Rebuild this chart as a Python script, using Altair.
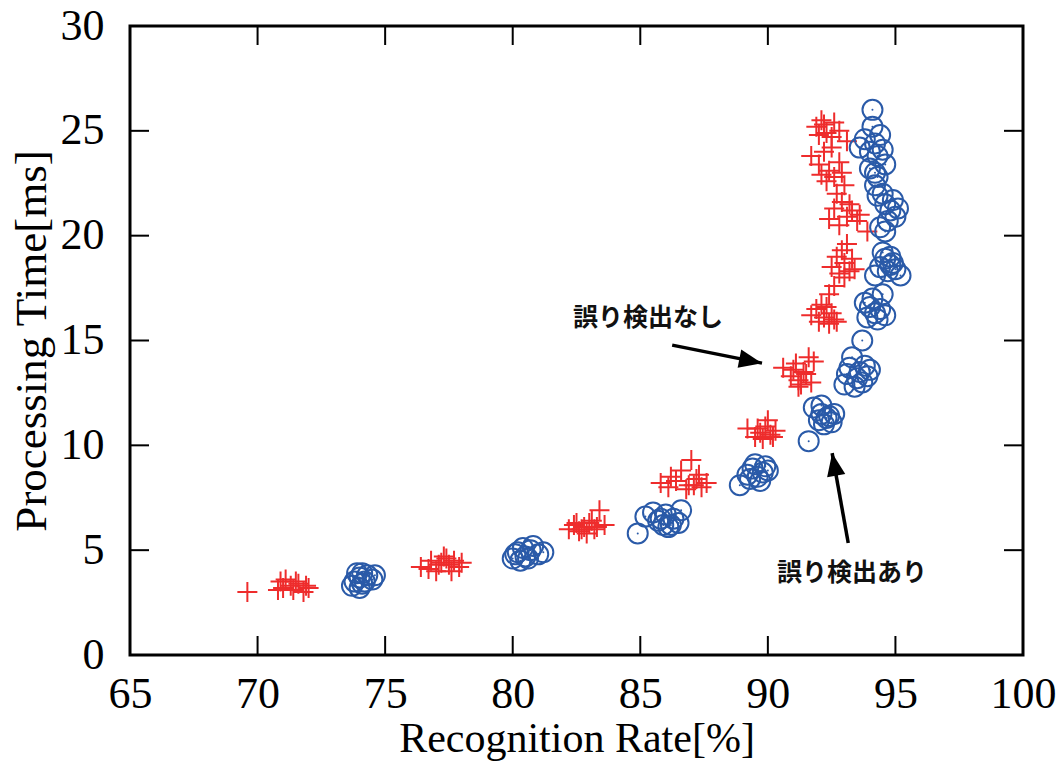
import altair as alt
import pandas as pd

# ---- data ----
red_x = [69.6, 70.9, 71.0, 71.1, 71.3, 71.4, 71.6, 71.8, 72.0, 70.8, 71.5, 71.9,
         76.4, 76.8, 77.0, 77.2, 77.4, 77.5, 77.7, 77.9, 77.3, 76.7, 77.6, 78.0, 77.1,
         82.2, 82.4, 82.6, 82.8, 83.0, 83.2, 82.9, 83.1, 83.4, 82.5, 83.3, 82.7, 83.6,
         85.8, 86.1, 86.4, 86.6, 86.9, 87.0, 87.2, 87.4, 87.6, 86.8, 87.3, 86.2, 87.1,
         89.2, 89.5, 89.7, 89.9, 90.1, 90.0, 90.3, 89.8, 90.2, 89.6,
         90.6, 90.9, 91.1, 91.2, 91.4, 91.6, 91.3, 91.7, 91.0, 91.5, 91.8, 91.2,
         91.7, 91.9, 92.0, 92.2, 92.4, 92.5, 92.3, 92.6, 92.1, 92.7, 92.4,
         92.5, 92.7, 92.8, 92.9, 93.0, 93.2, 93.1, 93.4, 92.6, 93.0, 93.3,
         92.4, 92.6, 92.8, 92.9, 93.1, 93.3, 93.5, 93.6, 92.7, 93.9, 93.2,
         91.7, 92.0, 92.2, 92.4, 92.6, 92.8, 92.3, 93.0, 92.5, 92.9, 93.1, 92.1,
         91.9, 92.1, 92.3, 92.2, 92.5, 92.8, 92.0, 92.6]
red_y = [3.0, 3.5, 3.2, 3.6, 3.3, 3.1, 3.4, 3.0, 3.2, 3.1, 3.5, 3.3,
         4.2, 4.5, 4.0, 4.4, 4.6, 4.3, 4.5, 4.2, 4.7, 4.1, 4.0, 4.4, 4.3,
         6.0, 6.2, 5.9, 6.1, 6.3, 6.0, 5.8, 6.4, 6.9, 6.3, 6.1, 6.0, 6.2,
         8.2, 8.0, 8.3, 8.8, 8.1, 9.3, 8.4, 8.0, 8.2, 7.9, 8.6, 8.5, 8.1,
         10.8, 10.4, 10.6, 10.9, 10.5, 11.2, 10.7, 10.3, 10.4, 10.8,
         13.7, 13.3, 13.9, 13.1, 13.5, 14.2, 12.9, 13.0, 13.6, 13.4, 14.0, 12.8,
         16.2, 16.5, 15.9, 16.1, 15.8, 16.3, 16.6, 16.0, 16.7, 15.9, 17.2,
         18.5, 19.0, 18.2, 19.3, 18.7, 18.3, 19.6, 18.4, 17.6, 18.0, 18.9,
         20.8, 21.3, 20.5, 21.6, 20.9, 21.2, 20.7, 21.0, 22.0, 20.2, 21.5,
         23.8, 23.4, 24.0, 23.1, 22.8, 23.5, 22.6, 22.4, 24.2, 23.0, 24.5, 22.9,
         25.2, 25.5, 24.9, 25.3, 24.7, 25.0, 24.8, 25.4]

blue_x = [73.8, 74.0, 74.1, 74.3, 74.0, 73.9, 74.5, 74.2, 73.7, 74.6, 74.1,
          80.0, 80.2, 80.4, 80.5, 80.7, 80.3, 81.0, 80.8, 81.2, 80.6, 80.1,
          84.9, 85.2, 85.5, 85.7, 85.9, 86.0, 86.1, 86.3, 86.5, 86.6, 85.8, 86.2,
          88.9, 89.2, 89.4, 89.5, 89.6, 89.8, 89.7, 89.3, 90.0, 89.9,
          91.6, 91.8, 92.0, 92.1, 92.2, 92.3, 92.4, 92.5, 92.6, 92.1,
          93.0, 93.1, 93.2, 93.3, 93.5, 93.6, 93.8, 93.9, 93.7, 93.4, 94.0,
          93.7, 93.9, 94.0, 94.1, 94.2, 94.3, 94.4, 94.5, 94.6, 93.8,
          94.2, 94.4, 94.6, 94.7, 94.8, 94.9, 95.0, 95.2, 94.5, 94.8,
          94.3, 94.5, 94.6, 94.7, 94.8, 94.9, 95.0, 94.4, 94.6, 95.1, 94.2,
          93.6, 93.8, 94.0, 94.2, 94.3, 94.4, 94.1, 94.5, 94.0, 94.3, 94.6, 94.2,
          94.1]
blue_y = [3.5, 3.7, 3.4, 3.8, 3.2, 3.9, 3.6, 3.5, 3.3, 3.8, 3.9,
          4.6, 4.9, 5.1, 4.7, 5.0, 4.5, 4.8, 5.2, 4.9, 4.6, 4.8,
          5.8, 6.6, 6.8, 6.4, 6.2, 6.7, 6.1, 6.5, 6.3, 6.9, 6.5, 6.2,
          8.1, 8.6, 8.9, 9.1, 8.5, 8.7, 8.3, 8.4, 8.8, 9.0,
          10.2, 11.8, 11.2, 11.5, 11.0, 11.3, 11.4, 11.1, 11.5, 11.9,
          12.9, 13.4, 13.7, 14.2, 13.2, 13.5, 13.8, 13.3, 13.0, 12.8, 13.6,
          15.0, 16.1, 16.6, 17.0, 16.3, 16.0, 16.5, 17.2, 16.2, 16.8,
          18.1, 18.5, 18.9, 18.3, 19.0, 18.7, 18.4, 18.1, 19.2, 18.6,
          21.9, 22.0, 21.5, 20.7, 21.2, 21.7, 20.9, 20.4, 20.2, 21.3, 22.4,
          24.2, 24.6, 24.0, 24.4, 23.8, 24.8, 25.2, 24.1, 23.2, 22.8, 23.4, 23.0,
          26.0]

x_ticks = [65, 70, 75, 80, 85, 90, 95, 100]
y_ticks = [0, 5, 10, 15, 20, 25, 30]

labels_text = ["誤り検出なし", "誤り検出あり"]
labels_x = [85.3, 93.3]
labels_y = [16.07, 3.93]

arrow_x0 = [86.25, 93.15]
arrow_y0 = [14.78, 5.34]
arrow_x1 = [89.77, 92.52]
arrow_y1 = [13.92, 9.63]
arrow_angle = [101.3, 349.9]

# ---- tables ----
red = pd.DataFrame({"x": red_x, "y": red_y})
blue = pd.DataFrame({"x": blue_x, "y": blue_y})
lab = pd.DataFrame({"t": labels_text, "x": labels_x, "y": labels_y})
arr = pd.DataFrame({"x0": arrow_x0, "y0": arrow_y0, "x1": arrow_x1,
                    "y1": arrow_y1, "a": arrow_angle})

XLEN = 0.745   # tick length in x units
YLEN = 0.906   # tick length in y units
inner_x = [v for v in x_ticks if 65 < v < 100]
inner_y = [v for v in y_ticks if 0 < v < 30]
xt = pd.DataFrame({"v": inner_x})
yt = pd.DataFrame({"v": inner_y})

xs = alt.Scale(domain=[65, 100], nice=False, zero=False)
ys = alt.Scale(domain=[0, 30], nice=False, zero=False)

serif = "Liberation Serif"
xaxis = alt.Axis(values=x_ticks, ticks=False, domain=False, grid=False,
                 labelFont=serif, labelFontSize=44, labelColor="black",
                 labelPadding=17, labelFlush=False, labelOverlap=False,
                 title="Recognition Rate[%]", titleFont=serif,
                 titleFontSize=42, titleFontWeight="normal", titleColor="black",
                 titlePadding=2)
yaxis = alt.Axis(values=y_ticks, ticks=False, domain=False, grid=False,
                 labelFont=serif, labelFontSize=44, labelColor="black",
                 labelPadding=26, labelFlush=False, labelOverlap=False,
                 title="Processing Time[ms]", titleFont=serif,
                 titleFontSize=45, titleFontWeight="normal", titleColor="black",
                 titlePadding=6)

base_red = alt.Chart(red).mark_point(
    shape="M-1,0L1,0M0,-1L0,1", size=400, filled=False,
    stroke="#ee2c2c", strokeWidth=2, opacity=1
).encode(x=alt.X("x:Q", scale=xs, axis=xaxis), y=alt.Y("y:Q", scale=ys, axis=yaxis))

base_blue = alt.Chart(blue).mark_point(
    shape="circle", size=400, filled=False,
    stroke="#2a5aa8", strokeWidth=2, opacity=1
).encode(x=alt.X("x:Q", scale=xs), y=alt.Y("y:Q", scale=ys))

dots = alt.Chart(blue).mark_point(
    shape="circle", size=4, filled=True, fill="#2a5aa8", strokeWidth=0, opacity=1
).encode(x=alt.X("x:Q", scale=xs), y=alt.Y("y:Q", scale=ys))

xt_bot = alt.Chart(xt).mark_rule(color="black", strokeWidth=2).encode(
    x=alt.X("v:Q", scale=xs), y=alt.datum(0), y2=alt.datum(YLEN))
xt_top = alt.Chart(xt).mark_rule(color="black", strokeWidth=2).encode(
    x=alt.X("v:Q", scale=xs), y=alt.datum(30), y2=alt.datum(30 - YLEN))
yt_left = alt.Chart(yt).mark_rule(color="black", strokeWidth=2).encode(
    y=alt.Y("v:Q", scale=ys), x=alt.datum(65), x2=alt.datum(65 + XLEN))
yt_right = alt.Chart(yt).mark_rule(color="black", strokeWidth=2).encode(
    y=alt.Y("v:Q", scale=ys), x=alt.datum(100), x2=alt.datum(100 - XLEN))

text = alt.Chart(lab).mark_text(
    font="Noto Sans CJK JP", fontSize=25, fontWeight="bold", color="#111111",
    align="center", baseline="middle"
).encode(x=alt.X("x:Q", scale=xs), y=alt.Y("y:Q", scale=ys), text="t:N")

shafts = alt.Chart(arr).mark_rule(color="black", strokeWidth=3.5).encode(
    x=alt.X("x0:Q", scale=xs), y=alt.Y("y0:Q", scale=ys), x2="x1:Q", y2="y1:Q")

heads = alt.Chart(arr).mark_point(
    shape="M0,0L0.4,1L-0.4,1Z", size=2116, filled=True, fill="black",
    strokeWidth=0, opacity=1
).encode(x=alt.X("x1:Q", scale=xs), y=alt.Y("y1:Q", scale=ys),
         angle=alt.Angle("a:Q", scale=None))

chart = alt.layer(
    base_red, base_blue, dots, xt_bot, xt_top, yt_left, yt_right,
    shafts, heads, text
).properties(
    width=893, height=629,
    autosize=alt.AutoSizeParams(type="none"),
    padding={"left": 130, "top": 26, "right": 40, "bottom": 109},
    background="white"
).configure_view(stroke="black", strokeWidth=3)

chart.save("out.html", embed_options={"renderer": "svg", "actions": False})
